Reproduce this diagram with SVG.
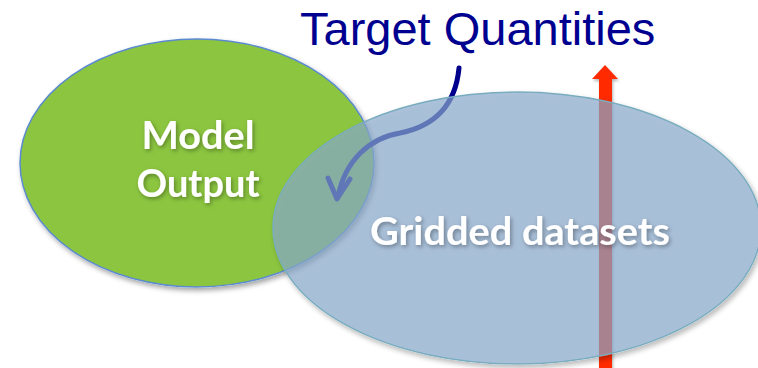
<svg xmlns="http://www.w3.org/2000/svg" width="758" height="368" viewBox="0 0 758 368">
  <style>
    .label { font-family: Lato, "Open Sans", "Liberation Sans", sans-serif; font-weight: 700; fill: #ffffff; text-anchor: middle; }
    .title { font-family: "Liberation Sans", Arial, sans-serif; fill: #000090; }
  </style>
  <defs>
    <!-- soft drop shadow that only shows outside the shape -->
    <filter id="outerShadow" x="-10%" y="-10%" width="125%" height="130%">
      <feGaussianBlur in="SourceAlpha" stdDeviation="2.5" result="blur"/>
      <feOffset in="blur" dx="2" dy="3" result="off"/>
      <feComposite in="off" in2="SourceAlpha" operator="out" result="outside"/>
      <feFlood flood-color="#000000" flood-opacity="0.35"/>
      <feComposite in2="outside" operator="in" result="shadow"/>
      <feMerge>
        <feMergeNode in="shadow"/>
        <feMergeNode in="SourceGraphic"/>
      </feMerge>
    </filter>
    <filter id="textShadow" x="-10%" y="-20%" width="120%" height="150%">
      <feDropShadow dx="1.5" dy="2" stdDeviation="2" flood-color="#000000" flood-opacity="0.35"/>
    </filter>
    <filter id="arrowShadow" x="-50%" y="-10%" width="200%" height="120%">
      <feDropShadow dx="1" dy="2" stdDeviation="1.5" flood-color="#000000" flood-opacity="0.3"/>
    </filter>
  </defs>

  <rect width="758" height="368" fill="#ffffff"/>

  <!-- Model Output -->
  <g id="model-output">
    <ellipse cx="197" cy="163" rx="177" ry="124" fill="#8cc63f" stroke="#5b8ad0" stroke-width="1.5" filter="url(#outerShadow)"/>
    <text class="label" x="198" y="149" font-size="39" textLength="113" lengthAdjust="spacingAndGlyphs" filter="url(#textShadow)">Model</text>
    <text class="label" x="198" y="197" font-size="39" textLength="123" lengthAdjust="spacingAndGlyphs" filter="url(#textShadow)">Output</text>
  </g>

  <!-- connectors -->
  <g id="connectors" fill="none">
    <g id="target-arrow" stroke="#00008c" stroke-width="5" stroke-linecap="round" stroke-linejoin="round">
      <path d="M459,68 C456,100 440,125 400,133 C370,138 345,160 338,197"/>
      <polyline points="328,178 337,199 350,179"/>
    </g>
    <path id="vertical-arrow" d="M599,368 V79 H592 L605,65 L618,79 H612 V368 Z" fill="#ff2a00" filter="url(#arrowShadow)"/>
  </g>

  <!-- Gridded datasets -->
  <g id="gridded-datasets">
    <ellipse cx="517" cy="228" rx="244" ry="136" fill="#88a8cb" fill-opacity="0.69" stroke="#78acbe" stroke-width="1.5" filter="url(#outerShadow)"/>
    <text class="label" x="520" y="245" font-size="39" textLength="300" lengthAdjust="spacingAndGlyphs" filter="url(#textShadow)">Gridded datasets</text>
  </g>

  <!-- Target Quantities -->
  <g id="target-quantities">
    <text class="title" x="300" y="45" font-size="47">Target Quantities</text>
  </g>
</svg>
